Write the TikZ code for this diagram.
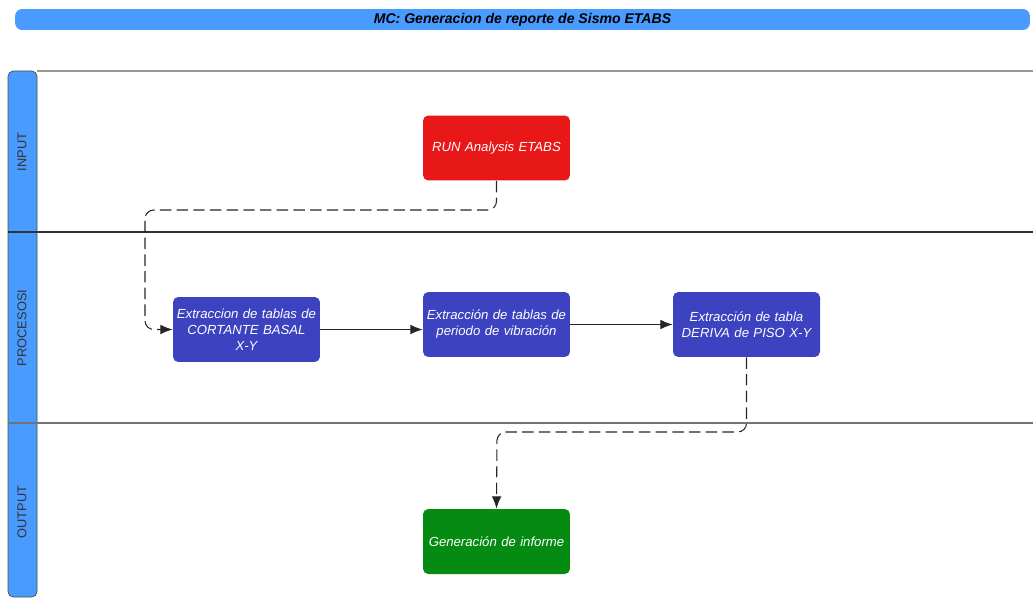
\documentclass[tikz,border=0pt]{standalone}
\usepackage{fontspec}
\setmainfont{Liberation Sans}
\usetikzlibrary{arrows.meta}
\definecolor{laneblue}{HTML}{4A9BFF}
\definecolor{procblue}{HTML}{3D42C0}
\definecolor{runred}{HTML}{E81818}
\definecolor{outgreen}{HTML}{058A12}
\tikzset{
  paso/.style={rounded corners=3pt, minimum width=2.94cm, minimum height=1.3cm,
    text width=2.85cm, align=center, inner sep=0pt, text=white,
    font=\fontsize{7.5}{9.1}\selectfont\itshape},
  carril/.style={rotate=90, text=black!80, font=\fontsize{7.3}{9}\selectfont},
  flujo/.style={-{Latex[length=7pt,width=5.5pt]}, line width=0.6pt, black!85},
  flujoraya/.style={flujo, dash pattern=on 6.5pt off 3pt, rounded corners=5pt},
}
\begin{document}
\begin{tikzpicture}[x=0.02cm,y=-0.02cm]
\useasboundingbox (0,0) rectangle (1033,598);
% barra de titulo
\node[fill=laneblue, rounded corners=4pt, minimum width=20.3cm, minimum height=0.42cm,
  inner sep=0pt, font=\fontsize{8}{9}\selectfont\bfseries\itshape] (titulo) at (522.5,19.5)
  {MC: Generacion de reporte de Sismo ETABS};
% piscina y carriles
\draw[fill=laneblue, draw=black!70, rounded corners=3pt] (8,71) rectangle (37,597);
\draw[black!40, line width=0.8pt] (37,71) -- (1033,71);
\draw[black!80, line width=0.8pt] (8,232) -- (1033,232);
\draw[black!55, line width=0.8pt] (8,423) -- (1033,423);
\node[carril] (lane1) at (22,152) {INPUT};
\node[carril] (lane2) at (22,328) {PROCESOSI};
\node[carril] (lane3) at (22,512) {OUTPUT};
% pasos
\node[paso, fill=runred] (run) at (496.5,148) {RUN Analysis ETABS};
\node[paso, fill=procblue] (cortante) at (246.5,329.5) {Extraccion de tablas de\\CORTANTE BASAL\\X-Y};
\node[paso, fill=procblue] (periodo) at (496.5,324.5) {Extracción de tablas de\\periodo de vibración};
\node[paso, fill=procblue] (deriva) at (746.5,324.5) {Extracción de tabla\\DERIVA de PISO X-Y};
\node[paso, fill=outgreen] (informe) at (496.5,541.5) {Generación de informe};
% conectores
\coordinate (codo1) at (145,210);
\coordinate (codo2) at (497,432);
\draw[flujoraya] (run.south) |- (codo1) |- (cortante.west);
\draw[flujo] (cortante.east) -- (cortante.east -| periodo.west);
\draw[flujo] (periodo.east) -- (deriva.west);
\draw[flujoraya] (deriva.south) |- (codo2) -- (informe.north);
\end{tikzpicture}
\end{document}
